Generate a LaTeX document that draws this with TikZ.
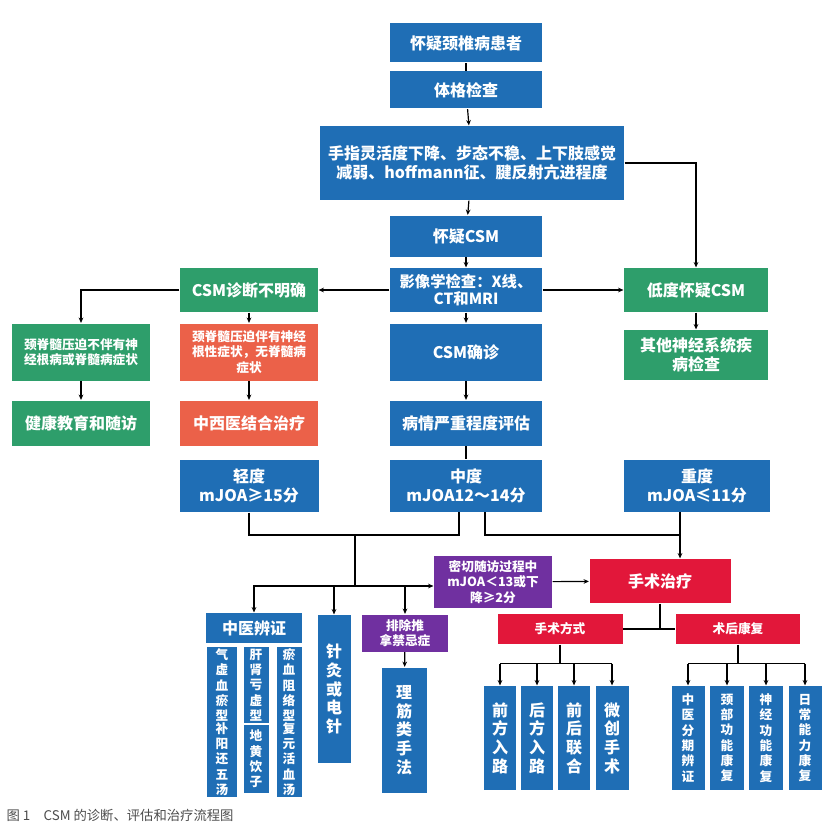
\documentclass[tikz,border=0pt]{standalone}
\usepackage{fontspec}
\setmainfont{Noto Sans CJK SC}
\usetikzlibrary{arrows.meta}
\definecolor{cblue}{RGB}{31,110,181}
\definecolor{cgreen}{RGB}{46,158,107}
\definecolor{corange}{RGB}{235,97,73}
\definecolor{cred}{RGB}{226,23,58}
\definecolor{cpurple}{RGB}{112,48,160}
\tikzset{every picture/.style={line width=0.9pt}}
\tikzset{
  wh/.style 2 args={minimum width=#1*0.75pt, minimum height=#2*0.75pt},
  box/.style={fill=cblue, text=white, font=\bfseries\fontsize{12}{14}\selectfont, inner sep=1pt, align=center},
  gbox/.style={box, fill=cgreen},
  obox/.style={box, fill=corange},
  rbox/.style={box, fill=cred},
  pbox/.style={box, fill=cpurple},
  small/.style={font=\bfseries\fontsize{9.5}{11.5}\selectfont},
  arr/.style={-{Stealth[length=4pt,width=3.5pt]}}
}

\begin{document}
\begin{tikzpicture}[x=0.75pt,y=0.75pt,yscale=-1,xscale=1]
\useasboundingbox (0,0) rectangle (828,831);

% main column
\node (n1) at (466,43) [box, wh={152}{39}] {怀疑颈椎病患者};
\node (n2) at (466,90) [box, wh={152}{37}] {体格检查};
\node (n3) at (472,163) [box, wh={304}{74}] {手指灵活度下降、步态不稳、上下肢感觉\\减弱、hoffmann征、腱反射亢进程度};
\node (n4) at (466,236) [box, wh={152}{41}] {怀疑CSM};
\node (n5) at (466,290) [box, wh={152}{44}, font=\bfseries\fontsize{11.5}{13}\selectfont] {影像学检查：X线、\\CT和MRI};
\node (confirm) at (466,352) [box, wh={152}{57}] {CSM确诊};
\node (eval) at (466,423) [box, wh={152}{45}] {病情严重程度评估};

% left branch
\node (unclear) at (249,290) [gbox, wh={138}{44}] {CSM诊断不明确};
\node (g1) at (81,352) [gbox, small, wh={138}{57}] {颈脊髓压迫不伴有神\\经根病或脊髓病症状};
\node (o1) at (249,352) [obox, small, wh={138}{57}] {颈脊髓压迫伴有神经\\根性症状，无脊髓病\\症状};
\node (g2) at (81,423) [gbox, wh={138}{45}] {健康教育和随访};
\node (o2) at (249,423) [obox, wh={138}{45}] {中西医结合治疗};

% right branch
\node (low) at (696,290) [gbox, wh={144}{44}] {低度怀疑CSM};
\node (other) at (696,355) [gbox, wh={144}{50}] {其他神经系统疾\\病检查};

% severity
\node (mild) at (249,486) [box, wh={139}{52}] {轻度\\mJOA≥15分};
\node (moderate) at (466,486) [box, wh={152}{52}] {中度\\mJOA12～14分};
\node (severe) at (697,486) [box, wh={146}{52}] {重度\\mJOA≤11分};

% treatment
\node (follow) at (493,582) [pbox, small, wh={118}{52}] {密切随访过程中\\mJOA＜13或下\\降≥2分};
\node (surgery) at (660,581) [rbox, wh={141}{44}] {手术治疗};
\node (method) at (560,629) [rbox, small, wh={125}{30}] {手术方式};
\node (rehab) at (738,629) [rbox, small, wh={124}{30}] {术后康复};

\node (a1) at (500,738) [box, wh={32}{104}] {前\\方\\入\\路};
\node (a2) at (537,738) [box, wh={32}{104}] {后\\方\\入\\路};
\node (a3) at (574,738) [box, wh={32}{104}] {前\\后\\联\\合};
\node (a4) at (612,738) [box, wh={33}{104}] {微\\创\\手\\术};
\node (b1) at (688,738) [box, small, wh={33}{104}] {中\\医\\分\\期\\辨\\证};
\node (b2) at (727,738) [box, small, wh={34}{104}] {颈\\部\\功\\能\\康\\复};
\node (b3) at (766,738) [box, small, wh={34}{104}] {神\\经\\功\\能\\康\\复};
\node (b4) at (805,738) [box, small, wh={33}{104}] {日\\常\\能\\力\\康\\复};

% conservative
\node (zyz) at (254,628) [box, wh={96}{30}] {中医辨证};
\node (c1) at (222,685) [box, small, wh={30}{70}] {气\\虚\\血\\瘀\\型};
\node (c2) at (256,685) [box, small, wh={25}{70}] {肝\\肾\\亏\\虚\\型};
\node (c3) at (289,685) [box, small, wh={25}{70}] {瘀\\血\\阻\\络\\型};
\node (d1) at (222,759) [box, small, wh={30}{68}] {补\\阳\\还\\五\\汤};
\node (d2) at (256,759) [box, small, wh={25}{68}] {地\\黄\\饮\\子};
\node (d3) at (289,759) [box, small, wh={25}{68}] {复\\元\\活\\血\\汤};
\node (zj) at (334,689) [box, wh={33}{148}] {针\\灸\\或\\电\\针};
\node (pc) at (405,633) [pbox, small, wh={86}{37}] {排除推\\拿禁忌症};
\node (lj) at (404,730) [box, wh={45}{125}] {理\\筋\\类\\手\\法};

% connectors
\draw (n1) -- (n2);
\draw [arr] (n2) -- (n3);
\draw [arr] (n3) -- (n4);
\draw [arr] (n4) -- (n5);
\draw [arr] (n3.east) -| (low.north);
\draw [arr] (n5) -- (unclear);
\draw [arr] (n5) -- (low);
\draw [arr] (n5) -- (confirm);
\draw [arr] (confirm) -- (eval);
\draw (eval) -- (moderate);
\draw [arr] (low) -- (other);
\draw [arr] (unclear.west) -| (g1.north);
\draw [arr] (unclear) -- (o1);
\draw [arr] (g1) -- (g2);
\draw [arr] (o1) -- (o2);

\coordinate (j1) at (355,535);
\coordinate (j2) at (355,586);
\coordinate (mL) at (459,512);
\coordinate (mR) at (485,512);
\coordinate (sv) at (680,512);
\draw (mild.south) |- (j1) -| (mL);
\draw (j1) -- (j2);
\draw [arr] (j2) -- (j2 -| follow.west);
\draw [arr] (j2) -| (zyz.north);
\draw [arr] (j2 -| zj.north) -- (zj.north);
\draw [arr] (j2 -| pc.north) -- (pc.north);
\draw [arr] (pc) -- (lj);
\draw (mR) |- (j1 -| sv);
\draw [arr] (sv) -- (sv |- surgery.north);
\draw [arr] (follow) -- (surgery);

\draw (surgery.south) -- (surgery.south |- method.east);
\draw (method.east) -- (rehab.west);
\draw (method.south) -- ++(0,19) coordinate (f1);
\draw (a1.north |- f1) -- (a4.north |- f1);
\foreach \b in {a1,a2,a3,a4} \draw [arr] (\b.north |- f1) -- (\b.north);
\draw (rehab.south) -- ++(0,19) coordinate (f2);
\draw (b1.north |- f2) -- (b4.north |- f2);
\foreach \b in {b1,b2,b3,b4} \draw [arr] (\b.north |- f2) -- (\b.north);

% caption
\node (cap) at (6,815) [anchor=west, inner sep=0pt, text=black!70, font=\fontsize{10}{12}\selectfont] {图 1\quad CSM 的诊断、评估和治疗流程图};
\end{tikzpicture}
\end{document}
